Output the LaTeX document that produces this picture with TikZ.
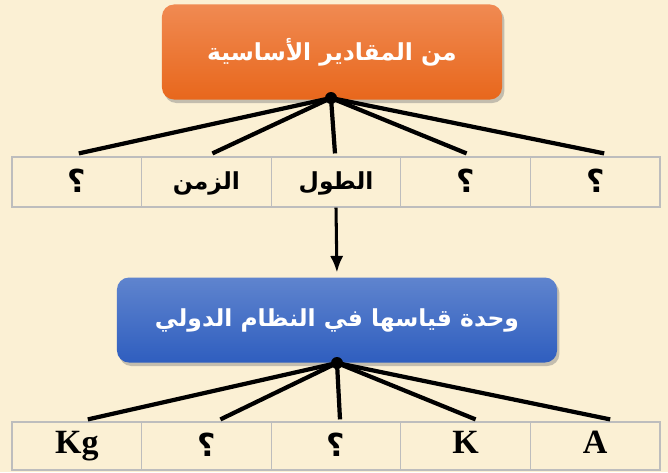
\documentclass[tikz,border=0pt]{standalone}
\usepackage{fontspec}
\setmainfont{Liberation Serif}
\newfontfamily\arabicfont[Script=Arabic]{DejaVu Sans}
\TeXXeTstate=1
\usetikzlibrary{shadows,calc,arrows.meta}

\definecolor{paper}{HTML}{FBF0D4}
\definecolor{orangetop}{HTML}{F08A52}
\definecolor{orangebot}{HTML}{E8671C}
\definecolor{bluetop}{HTML}{5F84CE}
\definecolor{bluebot}{HTML}{2F5EBF}
\definecolor{cellgray}{HTML}{BDBDBD}

\begin{document}
\begin{tikzpicture}[x=0.03cm, y=-0.03cm, >={Latex[length=0.5cm, width=0.4cm]},
  title/.style={rounded corners=0.36cm, align=center, text=white,
    font=\arabicfont\bfseries\fontsize{20}{24}\selectfont,
    drop shadow={opacity=0.45, shadow xshift=2pt, shadow yshift=-3pt}},
  cell/.style={draw=cellgray, line width=1pt, minimum width=3.888cm,
    text height=0.6cm, text depth=0.15cm, font=\bfseries\fontsize{29}{32}\selectfont},
  word/.style={font=\arabicfont\bfseries\fontsize{20}{24}\selectfont},
  query/.style={text height=0.75cm, text depth=0.1cm, font=\arabicfont\bfseries\fontsize{27}{30}\selectfont},
  hub/.style={circle, fill=black, inner sep=0pt, minimum size=0.36cm},
  branch/.style={line width=3.6pt}]

\useasboundingbox (0,0) rectangle (668,472);
\fill[paper] (0,0) rectangle (668,472);

% first level
\node (header1) at (332, 52) [title, top color=orangetop, bottom color=orangebot, minimum width=10.2cm, minimum height=2.85cm] {\beginR من المقادير الأساسية\endR};
\node (hub1) at (331, 98) [hub] {};

\node (quantity1) at (76.8, 182)  [cell, query, minimum height=1.5cm] {؟};
\node (quantity2) at (206.4, 182) [cell, word, minimum height=1.5cm] {\beginR الزمن\endR};
\node (quantity3) at (336, 182)   [cell, word, minimum height=1.5cm] {\beginR الطول\endR};
\node (quantity4) at (465.6, 182) [cell, query, minimum height=1.5cm] {؟};
\node (quantity5) at (595.2, 182) [cell, query, minimum height=1.5cm] {؟};

\draw[branch] (hub1.center) -- ($(quantity1.north)+(2,-3)$);
\draw[branch] (hub1.center) -- ($(quantity2.north)+(6,-3)$);
\draw[branch] (hub1.center) -- ($(quantity3.north)+(-1,-3)$);
\draw[branch] (hub1.center) -- ($(quantity4.north)+(1,-3)$);
\draw[branch] (hub1.center) -- ($(quantity5.north)+(9,-3)$);

% second level
\node (header2) at (337, 320) [title, top color=bluetop, bottom color=bluebot, minimum width=13.2cm, minimum height=2.55cm] {\beginR وحدة قياسها في النظام الدولي\endR};
\node (hub2) at (337, 363) [hub] {};

\draw[->, line width=2.6pt, shorten >=4pt] (quantity3.south) -- (header2.north);

\node (unit1) at (76.8, 446)  [cell, minimum height=1.44cm] {Kg};
\node (unit2) at (206.4, 446) [cell, query, minimum height=1.44cm] {؟};
\node (unit3) at (336, 446)   [cell, query, minimum height=1.44cm] {؟};
\node (unit4) at (465.6, 446) [cell, minimum height=1.44cm] {K};
\node (unit5) at (595.2, 446) [cell, minimum height=1.44cm] {A};

\draw[branch] (hub2.center) -- ($(unit1.north)+(11,-2)$);
\draw[branch] (hub2.center) -- ($(unit2.north)+(14,-2)$);
\draw[branch] (hub2.center) -- ($(unit3.north)+(4,-2)$);
\draw[branch] (hub2.center) -- ($(unit4.north)+(10,-2)$);
\draw[branch] (hub2.center) -- ($(unit5.north)+(15,-2)$);

\end{tikzpicture}
\end{document}
